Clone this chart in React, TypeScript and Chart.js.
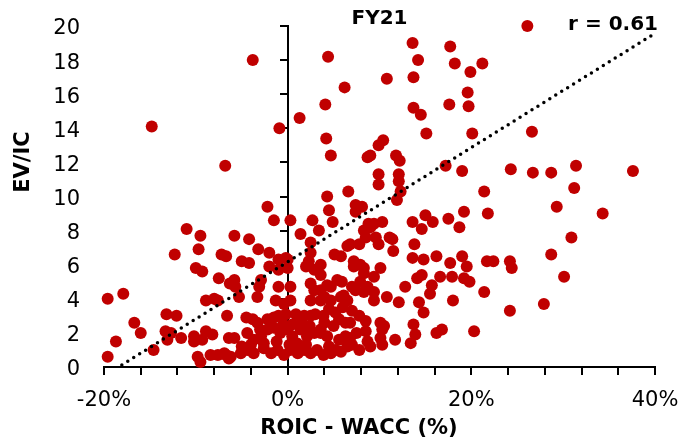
import React, { useEffect, useRef } from "react";
import { Chart, registerables } from "chart.js";

Chart.register(...registerables);

// ROIC - WACC (%) for each company
const roicWacc = [
  -19.6, -17.9, -19.6, -18.7, -16.7, -16.0, -14.6, -14.8, -13.2, -12.1, -13.3, -12.7, -13.1, -11.6, -12.3, -11.0,
  -9.5, -9.7, -10.0, -9.3, -10.2, -10.2, -9.3, -8.9, -8.2, -8.9, -8.0, -7.6, -7.2, -6.7, -7.5, -9.8, -9.5, -8.4,
  -7.6, -6.7, -6.4, -6.8, -3.8, -0.9,
  -6.3, -6.6, -6.4, -5.8, -4.2, -5.0, -4.2, -3.2, -2.0, -2.2, -1.5, -2.0, -1.0, 0.0, 0.0, -1.0, -0.2, -5.8, -5.7,
  -2.9, -3.1, -1.0, 0.3, -5.3, -3.3, -1.3, -0.4, 0.3, -4.5, -3.8, -3.3, -2.2, -1.5, -1.0, -0.2, 0.9, 1.8, 2.5, 3.0,
  -5.8, -4.4, -3.7, -2.9, -2.2, -1.5, -0.8, 0.0, 0.5, 1.4, 2.1, 2.9, 3.6, 4.3, -6.9, -6.2, -5.1, -4.4, -3.7, -2.6,
  -1.8, -1.1, -0.4, 0.3, 1.1, 1.8, 2.5, 3.2, 3.9, -2.6, -1.2, 0.2, 1.0, 2.0, -0.5, 0.5, 1.5, -3.0, 2.4, -4.0, -5.0,
  0.3, 2.7, 3.4, 1.3, 4.4, 4.1, 4.2, 4.7, 6.2, 4.3, 6.6, 4.5, 4.9, 1.4, 2.5, 2.5, 2.3, 3.6, 2.0, 2.9, 2.5, 2.9, 2.5,
  3.6, 5.1, 5.8, 6.5, 3.6, 5.4, 5.9, 4.3, 4.7, 7.0, 7.4, 3.6, 4.0, 4.7, 5.8, 6.1, 3.9, 5.2, 5.6, 6.3, 6.8, 3.6, 4.5,
  5.6, 6.5, 6.8, 4.7, 5.2, 6.8, 7.2, 7.2, 7.9, 8.7, 9.4, 6.3, 7.0, 4.5, 6.0, 7.0, 7.8, 6.5, 5.0, 4.0, 7.5, 7.8, 5.8,
  7.4, 8.1, 7.4, 8.8, 9.0, 10.3, 9.4, 8.3, 8.5, 11.4, 11.1, 9.6, 7.8, 9.9, 11.5, 7.9, 10.1, 8.3, 9.4, 8.3, 12.8, 8.3,
  10.8, 12.1, 9.4, 8.5, 8.5, 10.1, 10.3, 10.1, 11.7, 10.5, 8.7, 9.0, 10.3, 11.9, 12.3, 12.1, 12.1, 9.9, 9.9, 13.6,
  14.2, 10.8, 13.7, 13.7, 14.5, 10.4, 9.9, 9.0, 8.7, 11.8, 12.2, 13.6, 13.8, 13.6, 13.4, 13.7, 13.9,
  17.7, 18.2, 19.9, 21.2, 19.6, 17.6, 19.7, 15.1, 20.1, 17.2, 19.0, 21.4, 19.2, 21.8, 15.0, 15.8, 17.5, 18.7, 14.6,
  14.8, 16.2, 17.7, 19.0, 19.5, 21.7, 22.4, 14.6, 14.1, 16.6, 17.9, 19.2, 19.8, 15.7, 15.5, 21.4, 14.3, 18.0, 14.8,
  16.2, 16.8, 20.3,
  26.1, 26.6, 24.3, 26.7, 28.7, 31.4, 37.6, 31.2, 29.3, 34.3, 30.9, 28.7, 30.1, 27.9, 24.2, 24.4, 24.2,
];

// EV / Invested capital for each company (same order)
const evIc = [
  4.0, 4.3, 0.6, 1.5, 2.6, 2.0, 1.0, 14.1, 3.1, 3.0, 2.1, 2.0, 1.6, 1.7, 6.6, 8.1,
  7.7, 6.9, 5.8, 5.6, 1.8, 1.5, 1.6, 2.1, 1.9, 3.9, 4.0, 3.9, 6.6, 6.5, 5.2, 0.6, 0.3, 0.7,
  0.7, 0.7, 0.5, 11.8, 18.0, 14.0,
  4.9, 3.0, 1.7, 7.7, 7.5, 6.2, 6.1, 6.9, 6.7, 9.4, 8.6, 5.9, 5.7, 6.3, 5.8, 6.3, 6.4, 5.1, 4.7,
  5.1, 4.7, 4.7, 4.7, 4.1, 4.1, 3.9, 3.7, 3.9, 2.9, 2.8, 2.6, 2.8, 2.9, 3.0, 3.1, 3.1, 3.0, 3.0, 3.1,
  1.7, 2.0, 1.6, 1.8, 2.2, 2.3, 2.0, 2.2, 1.8, 2.2, 1.8, 2.0, 2.2, 1.8, 0.8, 0.6, 0.8, 1.0, 0.8, 1.1,
  0.8, 1.0, 0.7, 1.0, 0.8, 1.0, 0.8, 1.0, 0.7, 1.4, 1.5, 1.3, 1.4, 1.3, 2.5, 2.5, 2.6, 2.2, 2.4, 1.3, 1.2,
  8.6, 8.6, 8.0, 14.6, 18.2, 15.4, 13.4, 12.4, 16.4, 10.0, 10.3, 9.2, 8.5, 7.8, 7.3, 6.7, 6.2, 6.0, 5.9, 5.7, 4.9, 4.5, 3.9,
  3.9, 6.6, 6.5, 7.1, 5.4, 5.1, 5.0, 4.8, 4.7, 4.7, 4.5, 4.5, 4.1, 3.9, 4.1, 4.2, 3.0, 3.2, 2.8, 2.6, 2.6, 2.0, 1.2,
  1.6, 1.2, 1.7, 0.8, 1.0, 7.2, 6.2, 5.9, 5.0, 4.7, 4.4, 1.8, 1.3, 3.4, 3.5, 3.3, 3.0, 3.9, 2.4, 2.6, 2.0, 1.0, 0.9,
  9.5, 9.4, 9.1, 8.4, 8.2, 8.5, 8.4, 8.0, 7.6, 7.5, 7.6, 7.6, 7.2, 7.2, 6.8, 6.0, 5.8, 5.5, 5.3, 5.8, 4.7, 4.4,
  4.1, 3.8, 3.9, 2.7, 2.1, 2.6, 2.2, 1.7, 1.6, 2.4, 1.5, 1.2, 1.3, 9.8, 10.3, 10.9, 11.3, 11.3, 10.7, 19.0,
  18.0, 16.9, 17.0, 15.2, 14.8, 13.3, 13.0, 12.4, 12.3, 12.4, 12.1, 8.5, 7.2, 6.4, 1.4, 2.5, 1.9,
  18.8, 17.8, 17.3, 17.8, 16.1, 15.4, 15.3, 13.7, 13.7, 11.8, 11.5, 10.3, 9.1, 9.0, 8.9, 8.5, 8.7, 8.2, 8.1,
  6.3, 6.5, 6.1, 6.5, 5.9, 6.2, 6.2, 5.4, 5.2, 5.3, 5.3, 5.2, 5.0, 4.8, 4.3, 4.4, 3.8, 3.9, 3.2,
  2.0, 2.2, 2.1,
  20.0, 13.8, 11.6, 11.4, 11.4, 11.8, 11.5, 10.5, 9.4, 9.0, 7.6, 6.6, 5.3, 3.7, 6.2, 5.8, 3.3,
];

// Linear trend line end points
const trendX = [-20, 40];
const trendY = [-0.53, 19.57];

const xLabelTicks = [-20, 0, 20, 40];
const chartTitle = "FY21";
const corrLabel = "r = 0.61";
const xTitle = "ROIC - WACC (%)";
const yTitle = "EV/IC";

const RED = "#C00000";
const FONT = "'DejaVu Sans', sans-serif";

const overlay = {
  id: "overlay",
  beforeDatasetsDraw(chart: any) {
    const { ctx, scales } = chart;
    const x = scales.x;
    const y = scales.y;
    const x0 = Math.round(x.getPixelForValue(0));
    ctx.save();
    ctx.strokeStyle = "#000";
    ctx.lineWidth = 2;
    ctx.beginPath();
    ctx.moveTo(x0, y.getPixelForValue(y.max) - 1);
    ctx.lineTo(x0, y.getPixelForValue(y.min));
    for (const t of y.ticks) {
      const py = Math.round(y.getPixelForValue(t.value));
      ctx.moveTo(x0 - 8, py);
      ctx.lineTo(x0, py);
    }
    ctx.stroke();
    ctx.restore();
  },
  afterDraw(chart: any) {
    const { ctx, chartArea } = chart;
    ctx.save();
    ctx.fillStyle = "#000";
    ctx.font = `bold 20px ${FONT}`;
    ctx.textAlign = "center";
    ctx.textBaseline = "alphabetic";
    ctx.fillText(chartTitle, (chartArea.left + chartArea.right) / 2, 24);
    ctx.textAlign = "right";
    ctx.fillText(corrLabel, chartArea.right + 3, 30);
    ctx.font = `bold 21px ${FONT}`;
    ctx.textAlign = "center";
    ctx.fillText(xTitle, 359, 434);
    ctx.translate(24, 162);
    ctx.rotate(-Math.PI / 2);
    ctx.textBaseline = "middle";
    ctx.fillText(yTitle, 0, 0);
    ctx.restore();
  },
};

export default function App() {
  const ref = useRef<HTMLCanvasElement | null>(null);
  useEffect(() => {
    if (!ref.current) return;
    const points = roicWacc.map((v, i) => ({ x: v, y: evIc[i] }));
    const trend = trendX.map((v, i) => ({ x: v, y: trendY[i] }));
    const chart = new Chart(ref.current, {
      type: "scatter",
      data: {
        datasets: [
          {
            type: "line",
            data: trend,
            borderColor: "#000",
            borderWidth: 3.5,
            borderDash: [0, 7],
            borderCapStyle: "round",
            pointRadius: 0,
            fill: false,
            order: 0,
          } as any,
          {
            data: points,
            backgroundColor: RED,
            borderWidth: 0,
            pointRadius: 6,
            pointHoverRadius: 6,
            clip: false,
            order: 1,
          } as any,
        ],
      },
      plugins: [overlay],
      options: {
        animation: false,
        responsive: false,
        devicePixelRatio: 1,
        layout: { padding: { top: 26, right: 39, left: 0, bottom: 0 } },
        plugins: { legend: { display: false }, tooltip: { enabled: false }, title: { display: false } },
        scales: {
          x: {
            type: "linear",
            min: -20,
            max: 40,
            afterFit: (s: any) => {
              s.height = 72;
            },
            border: { display: true, color: "#000", width: 2 },
            grid: { display: true, drawOnChartArea: false, drawTicks: true, tickLength: 8, color: "#000", lineWidth: 2 },
            ticks: {
              stepSize: 4,
              autoSkip: false,
              maxRotation: 0,
              padding: 13,
              color: "#000",
              font: { family: FONT, size: 21 },
              callback: (v: any) => (xLabelTicks.includes(Math.round(Number(v))) ? `${Math.round(Number(v))}%` : ""),
            },
          },
          y: {
            type: "linear",
            min: 0,
            max: 20,
            afterFit: (s: any) => {
              s.width = 104;
              s.paddingTop = 0;
              s.paddingBottom = 0;
            },
            border: { display: false },
            grid: { display: false, drawTicks: true, tickLength: 24 },
            ticks: { stepSize: 2, padding: 0, labelOffset: 3, color: "#000", font: { family: FONT, size: 21 } },
          },
        },
      },
    });
    return () => chart.destroy();
  }, []);
  return (
    <div style={{ position: "absolute", left: 0, top: 0, width: 694, height: 439, background: "#fff" }}>
      <canvas ref={ref} width={694} height={439} />
    </div>
  );
}
